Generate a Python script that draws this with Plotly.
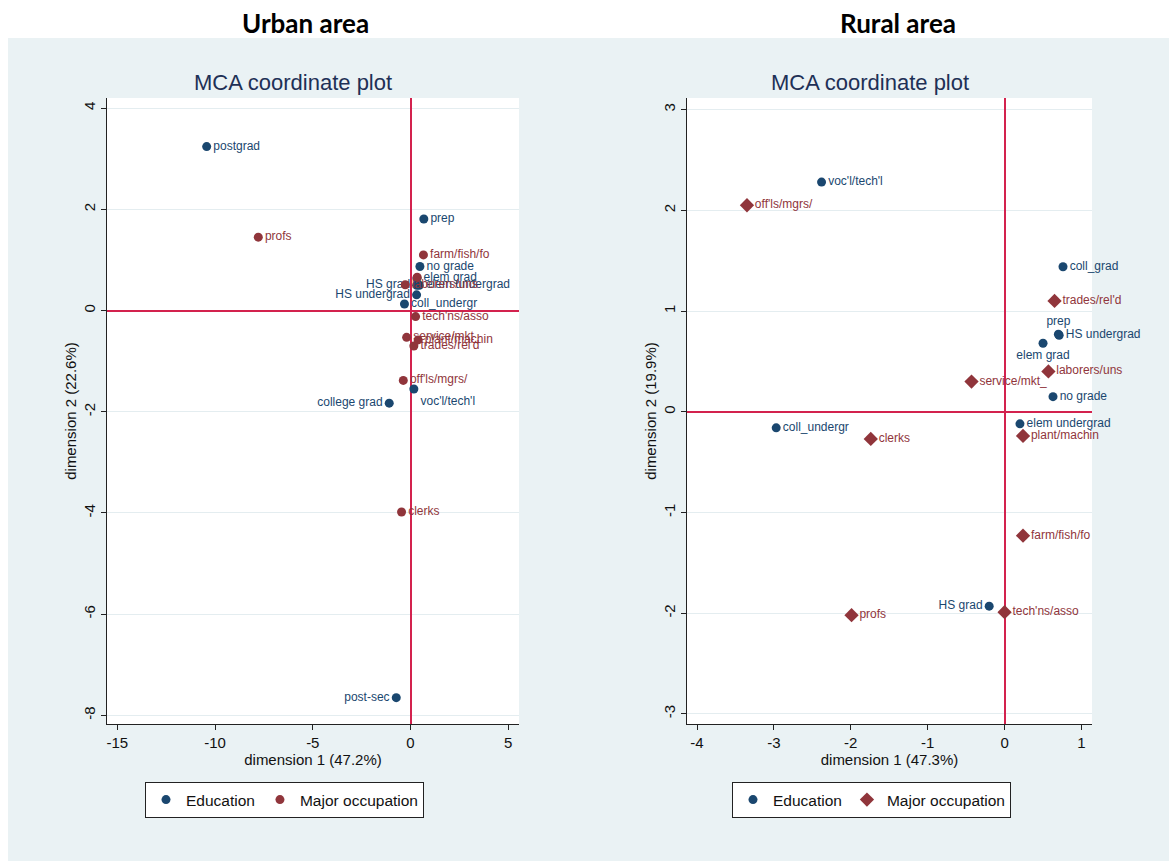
import plotly.graph_objects as go

# ---------------- Urban data ----------------
urban_edu_labels = ["postgrad", "prep", "no grade", "elem grad", "elem undergrad", "HS grad",
                    "HS undergrad", "coll_undergr", "college grad", "voc'l/tech'l", "post-sec"]
urban_edu_x = [-10.43, 0.68, 0.48, 0.33, 0.45, 0.32, 0.31, -0.31, -1.09, 0.17, -0.73]
urban_edu_y = [3.24, 1.81, 0.87, 0.64, 0.50, 0.50, 0.31, 0.13, -1.83, -1.55, -7.65]
urban_edu_pos = ["middle right", "middle right", "middle right", "middle right", "middle right",
                 "middle left", "middle left", "middle right", "middle left", "bottom right", "middle left"]

urban_occ_labels = ["profs", "farm/fish/fo", "laborers/uns", "tech'ns/asso", "service/mkt_",
                    "plant/machin", "trades/rel'd", "off'ls/mgrs/", "clerks", ""]
urban_occ_x = [-7.79, 0.66, -0.27, 0.26, -0.20, 0.39, 0.17, -0.37, -0.46, 0.34]
urban_occ_y = [1.45, 1.10, 0.51, -0.12, -0.53, -0.58, -0.70, -1.38, -3.98, 0.66]
urban_occ_pos = ["middle right"] * 10

# ---------------- Rural data ----------------
rural_edu_labels = ["voc'l/tech'l", "coll_grad", "prep", "HS undergrad", "elem grad",
                    "no grade", "elem undergrad", "coll_undergr", "HS grad"]
rural_edu_x = [-2.38, 0.76, 0.70, 0.71, 0.50, 0.63, 0.20, -2.97, -0.20]
rural_edu_y = [2.28, 1.44, 0.77, 0.76, 0.68, 0.15, -0.12, -0.16, -1.93]
rural_edu_pos = ["middle right", "middle right", "top center", "middle right", "bottom center",
                 "middle right", "middle right", "middle right", "middle left"]

rural_occ_labels = ["off'ls/mgrs/", "trades/rel'd", "laborers/uns", "service/mkt_", "plant/machin",
                    "clerks", "farm/fish/fo", "tech'ns/asso", "profs"]
rural_occ_x = [-3.35, 0.65, 0.57, -0.43, 0.24, -1.74, 0.24, 0.00, -1.99]
rural_occ_y = [2.05, 1.10, 0.40, 0.30, -0.24, -0.27, -1.23, -1.99, -2.02]
rural_occ_pos = ["middle right"] * 9

urban_xticks = [-15, -10, -5, 0, 5]
urban_yticks = [-8, -6, -4, -2, 0, 2, 4]
rural_xticks = [-4, -3, -2, -1, 0, 1]
rural_yticks = [-3, -2, -1, 0, 1, 2, 3]

BLUE = "#1A476F"
RED = "#90353B"
PANEL = "#EAF2F4"
GRID = "#E4EDF0"
REF = "#D3224E"
FONT = "Liberation Sans, Arial, sans-serif"

W, H = 1169, 861

fig = go.Figure()

def add(xs, ys, labels, pos, color, symbol, size, name, xa, ya, legend):
    fig.add_trace(go.Scatter(
        x=xs, y=ys, mode="markers+text", text=labels, textposition=pos,
        textfont=dict(family=FONT, size=12, color=color),
        marker=dict(color=color, symbol=symbol, size=size, line=dict(width=0)),
        name=name, xaxis=xa, yaxis=ya, legend=legend, cliponaxis=False,
        hoverinfo="skip"))

add(urban_edu_x, urban_edu_y, urban_edu_labels, urban_edu_pos, BLUE, "circle", 9, "Education", "x", "y", "legend")
add(urban_occ_x, urban_occ_y, urban_occ_labels, urban_occ_pos, RED, "circle", 9, "Major occupation", "x", "y", "legend")
add(rural_edu_x, rural_edu_y, rural_edu_labels, rural_edu_pos, BLUE, "circle", 9, "Education", "x2", "y2", "legend2")
add(rural_occ_x, rural_occ_y, rural_occ_labels, rural_occ_pos, RED, "diamond", 11, "Major occupation", "x2", "y2", "legend2")

def px_x(p):
    return p / W

def px_y(p):
    return 1 - p / H

axis_common = dict(
    showline=True, linecolor="#222", linewidth=1, mirror=False,
    ticks="outside", ticklen=5, tickcolor="#222", tickwidth=1,
    tickfont=dict(family=FONT, size=15, color="#111"),
    zeroline=True, zerolinecolor=REF, zerolinewidth=1.5,
    fixedrange=True,
)

def ttext(vals):
    return [str(v) for v in vals]

fig.update_layout(
    width=W, height=H,
    margin=dict(l=0, r=0, t=0, b=0),
    paper_bgcolor=PANEL, plot_bgcolor="white",
    xaxis=dict(domain=[px_x(107), px_x(519)], range=[-15.53, 5.55], tickvals=urban_xticks,
               ticktext=ttext(urban_xticks), showgrid=False, anchor="y",
               title=dict(text="dimension 1 (47.2%)", font=dict(family=FONT, size=15, color="#111"), standoff=4),
               **axis_common),
    yaxis=dict(domain=[px_y(724), px_y(98)], range=[-8.17, 4.2], tickvals=urban_yticks,
               ticktext=ttext(urban_yticks),
               showgrid=True, gridcolor=GRID, gridwidth=1, tickangle=-90, anchor="x",
               title=dict(text="dimension 2 (22.6%)", font=dict(family=FONT, size=15, color="#111"), standoff=0),
               **axis_common),
    xaxis2=dict(domain=[px_x(687), px_x(1092)], range=[-4.13, 1.137], tickvals=rural_xticks,
                ticktext=ttext(rural_xticks), showgrid=False, anchor="y2",
                title=dict(text="dimension 1 (47.3%)", font=dict(family=FONT, size=15, color="#111"), standoff=4),
                **axis_common),
    yaxis2=dict(domain=[px_y(724), px_y(98)], range=[-3.10, 3.115], tickvals=rural_yticks,
                ticktext=ttext(rural_yticks),
                showgrid=True, gridcolor=GRID, gridwidth=1, tickangle=-90, anchor="x2",
                title=dict(text="dimension 2 (19.9%)", font=dict(family=FONT, size=15, color="#111"), standoff=0),
                **axis_common),
    legend=dict(orientation="h", x=px_x(145), y=px_y(782), xanchor="left", yanchor="top",
                bgcolor="white", bordercolor="#222", borderwidth=1, tracegroupgap=0,
                font=dict(family=FONT, size=15.5, color="#111"), itemclick=False, itemdoubleclick=False),
    legend2=dict(orientation="h", x=px_x(732), y=px_y(782), xanchor="left", yanchor="top",
                 bgcolor="white", bordercolor="#222", borderwidth=1, tracegroupgap=0,
                 font=dict(family=FONT, size=15.5, color="#111"), itemclick=False, itemdoubleclick=False),
    showlegend=True,
)

# white strips above / left of the grey panel
fig.add_shape(type="rect", xref="paper", yref="paper", x0=0, x1=1, y0=px_y(38), y1=1,
              fillcolor="white", line=dict(width=0), layer="below")
fig.add_shape(type="rect", xref="paper", yref="paper", x0=0, x1=px_x(8), y0=0, y1=1,
              fillcolor="white", line=dict(width=0), layer="below")

# headings
HEAD = dict(family="Lato, Liberation Sans, sans-serif", size=26, color="black")
TITLE = dict(family=FONT, size=22, color="#1E3056")
fig.add_annotation(text="<b>Urban area</b>", x=px_x(305), y=px_y(23), xref="paper", yref="paper",
                   xanchor="center", yanchor="middle", showarrow=False, font=HEAD)
fig.add_annotation(text="<b>Rural area</b>", x=px_x(898), y=px_y(23), xref="paper", yref="paper",
                   xanchor="center", yanchor="middle", showarrow=False, font=HEAD)
fig.add_annotation(text="MCA coordinate plot", x=px_x(293), y=px_y(82), xref="paper", yref="paper",
                   xanchor="center", yanchor="middle", showarrow=False, font=TITLE)
fig.add_annotation(text="MCA coordinate plot", x=px_x(870), y=px_y(82), xref="paper", yref="paper",
                   xanchor="center", yanchor="middle", showarrow=False, font=TITLE)

fig.write_html("out.html", config={"displayModeBar": False},
               post_script="document.body.style.margin='0';document.body.style.overflow='hidden';")
